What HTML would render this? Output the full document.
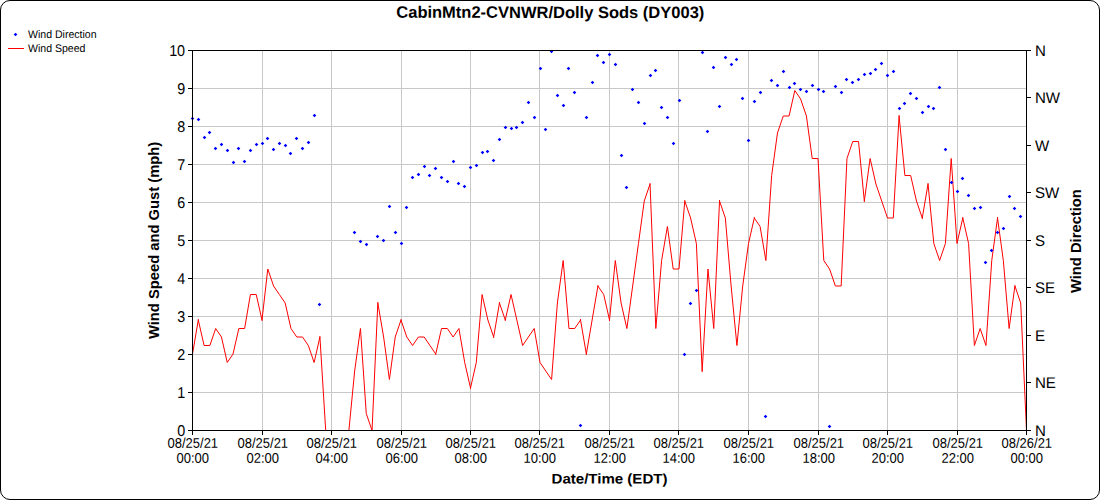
<!DOCTYPE html>
<html><head><meta charset="utf-8"><title>CabinMtn2-CVNWR/Dolly Sods (DY003)</title><style>
html,body{margin:0;padding:0;background:#fff;}
body{width:1100px;height:500px;overflow:hidden;position:relative;font-family:"Liberation Sans",sans-serif;}
svg{position:absolute;left:0;top:0;display:block;}
text{font-family:"Liberation Sans",sans-serif;fill:#000;}
.b{font-weight:bold;}
</style></head><body>
<svg width="1100" height="500" viewBox="0 0 1100 500">
<rect x="0.5" y="0.5" width="1099" height="499" rx="9.5" ry="9.5" fill="#fff" stroke="#000" stroke-width="1"/>
<path d="M262.5 51V430M331.5 51V430M401.5 51V430M470.5 51V430M539.5 51V430M609.5 51V430M678.5 51V430M748.5 51V430M818.5 51V430M887.5 51V430M957.5 51V430M193 392.5H1026M193 354.5H1026M193 316.5H1026M193 278.5H1026M193 240.5H1026M193 202.5H1026M193 164.5H1026M193 126.5H1026M193 88.5H1026" stroke="#c8c8c8" stroke-width="1" fill="none" shape-rendering="crispEdges"/>
<polyline points="192.50,354.0 198.29,320.0 204.08,345.5 209.88,345.5 215.67,328.5 221.46,337.0 227.25,362.5 233.04,354.0 238.83,328.5 244.62,328.5 250.42,294.5 256.21,294.5 262.00,320.0 267.79,269.0 273.58,286.0 279.38,294.5 285.17,303.0 290.96,328.5 296.75,337.0 302.54,337.0 308.33,345.5 314.12,362.5 319.92,337.0 325.71,430.5 331.50,430.5 337.29,430.5 343.08,430.5 348.88,430.5 354.67,371.0 360.46,328.5 366.25,413.5 372.04,430.5 377.83,303.0 383.62,337.0 389.42,379.5 395.21,337.0 401.00,320.0 406.79,337.0 412.58,345.5 418.38,337.0 424.17,337.0 429.96,345.5 435.75,354.0 441.54,328.5 447.33,328.5 453.12,337.0 458.92,328.5 464.71,362.5 470.50,388.0 476.29,362.5 482.08,294.5 487.88,320.0 493.67,337.0 499.46,303.0 505.25,320.0 511.04,294.5 516.83,320.0 522.62,345.5 528.42,337.0 534.21,328.5 540.00,362.5 545.79,371.0 551.58,379.5 557.38,303.0 563.17,260.5 568.96,328.5 574.75,328.5 580.54,320.0 586.33,354.0 592.12,320.0 597.92,286.0 603.71,294.5 609.50,320.0 615.29,260.5 621.08,303.0 626.88,328.5 632.67,286.0 638.46,243.5 644.25,201.0 650.04,184.0 655.83,328.5 661.62,260.5 667.42,226.5 673.21,269.0 679.00,269.0 684.79,201.0 690.58,218.0 696.38,243.5 702.17,371.0 707.96,269.0 713.75,328.5 719.54,201.0 725.33,218.0 731.12,286.0 736.92,345.5 742.71,286.0 748.50,243.5 754.29,218.0 760.08,226.5 765.88,260.5 771.67,175.5 777.46,133.0 783.25,116.0 789.04,116.0 794.83,90.5 800.62,99.0 806.42,116.0 812.21,158.5 818.00,158.5 823.79,260.5 829.58,269.0 835.38,286.0 841.17,286.0 846.96,158.5 852.75,141.5 858.54,141.5 864.33,201.0 870.12,158.5 875.92,184.0 881.71,201.0 887.50,218.0 893.29,218.0 899.08,116.0 904.88,175.5 910.67,175.5 916.46,201.0 922.25,218.0 928.04,184.0 933.83,243.5 939.62,260.5 945.42,243.5 951.21,158.5 957.00,243.5 962.79,218.0 968.58,243.5 974.38,345.5 980.17,328.5 985.96,345.5 991.75,260.5 997.54,218.0 1003.33,260.5 1009.12,328.5 1014.92,286.0 1020.71,303.0 1026.50,430.5" fill="none" stroke="#ff0000" stroke-width="1" stroke-linejoin="miter" stroke-linecap="butt" stroke-miterlimit="10"/>
<path d="M198.29 320.00v-1.0M262.00 320.00v1.0M319.92 337.00v-1.0M377.83 303.00v-1.0M401.00 320.00v-1.0M435.75 354.00v1.0M470.50 388.00v1.0M493.67 337.00v1.0M499.46 303.00v-1.0M505.25 320.00v1.0M580.54 320.00v-1.0M586.33 354.00v1.0M597.92 286.00v-1.0M609.50 320.00v1.0M650.04 184.00v-1.0M684.79 201.00v-1.0M702.17 371.00v1.0M719.54 201.00v-1.0M754.29 218.00v-1.0M864.33 201.00v1.0M899.08 116.00v-1.0M922.25 218.00v1.0M928.04 184.00v-1.0M962.79 218.00v-1.0M997.54 218.00v-1.0M1014.92 286.00v-1.0" fill="none" stroke="#ff0000" stroke-width="1.0"/>
<path fill="#0000ff" d="M190.7 118.5L192.5 116.7L194.3 118.5L192.5 120.3ZM196.7 119.5L198.5 117.7L200.3 119.5L198.5 121.3ZM202.7 137.5L204.5 135.7L206.3 137.5L204.5 139.3ZM207.7 132.5L209.5 130.7L211.3 132.5L209.5 134.3ZM213.7 148.5L215.5 146.7L217.3 148.5L215.5 150.3ZM219.7 144.5L221.5 142.7L223.3 144.5L221.5 146.3ZM225.7 150.5L227.5 148.7L229.3 150.5L227.5 152.3ZM231.7 162.5L233.5 160.7L235.3 162.5L233.5 164.3ZM236.7 148.5L238.5 146.7L240.3 148.5L238.5 150.3ZM242.7 161.5L244.5 159.7L246.3 161.5L244.5 163.3ZM248.7 150.5L250.5 148.7L252.3 150.5L250.5 152.3ZM254.7 144.5L256.5 142.7L258.3 144.5L256.5 146.3ZM260.7 143.5L262.5 141.7L264.3 143.5L262.5 145.3ZM265.7 138.5L267.5 136.7L269.3 138.5L267.5 140.3ZM271.7 149.5L273.5 147.7L275.3 149.5L273.5 151.3ZM277.7 143.5L279.5 141.7L281.3 143.5L279.5 145.3ZM283.7 145.5L285.5 143.7L287.3 145.5L285.5 147.3ZM288.7 153.5L290.5 151.7L292.3 153.5L290.5 155.3ZM294.7 138.5L296.5 136.7L298.3 138.5L296.5 140.3ZM300.7 148.5L302.5 146.7L304.3 148.5L302.5 150.3ZM306.7 142.5L308.5 140.7L310.3 142.5L308.5 144.3ZM312.7 115.5L314.5 113.7L316.3 115.5L314.5 117.3ZM317.7 304.5L319.5 302.7L321.3 304.5L319.5 306.3ZM352.7 232.5L354.5 230.7L356.3 232.5L354.5 234.3ZM358.7 241.5L360.5 239.7L362.3 241.5L360.5 243.3ZM364.7 244.5L366.5 242.7L368.3 244.5L366.5 246.3ZM375.7 236.5L377.5 234.7L379.3 236.5L377.5 238.3ZM381.7 240.5L383.5 238.7L385.3 240.5L383.5 242.3ZM387.7 206.5L389.5 204.7L391.3 206.5L389.5 208.3ZM393.7 232.5L395.5 230.7L397.3 232.5L395.5 234.3ZM399.7 243.5L401.5 241.7L403.3 243.5L401.5 245.3ZM404.7 207.5L406.5 205.7L408.3 207.5L406.5 209.3ZM410.7 177.5L412.5 175.7L414.3 177.5L412.5 179.3ZM416.7 174.5L418.5 172.7L420.3 174.5L418.5 176.3ZM422.7 166.5L424.5 164.7L426.3 166.5L424.5 168.3ZM427.7 175.5L429.5 173.7L431.3 175.5L429.5 177.3ZM433.7 168.5L435.5 166.7L437.3 168.5L435.5 170.3ZM439.7 177.5L441.5 175.7L443.3 177.5L441.5 179.3ZM445.7 181.5L447.5 179.7L449.3 181.5L447.5 183.3ZM451.7 161.5L453.5 159.7L455.3 161.5L453.5 163.3ZM456.7 183.5L458.5 181.7L460.3 183.5L458.5 185.3ZM462.7 186.5L464.5 184.7L466.3 186.5L464.5 188.3ZM468.7 167.5L470.5 165.7L472.3 167.5L470.5 169.3ZM474.7 165.5L476.5 163.7L478.3 165.5L476.5 167.3ZM480.7 152.5L482.5 150.7L484.3 152.5L482.5 154.3ZM485.7 151.5L487.5 149.7L489.3 151.5L487.5 153.3ZM491.7 160.5L493.5 158.7L495.3 160.5L493.5 162.3ZM497.7 139.5L499.5 137.7L501.3 139.5L499.5 141.3ZM503.7 127.5L505.5 125.7L507.3 127.5L505.5 129.3ZM509.7 128.5L511.5 126.7L513.3 128.5L511.5 130.3ZM514.7 127.5L516.5 125.7L518.3 127.5L516.5 129.3ZM520.7 122.5L522.5 120.7L524.3 122.5L522.5 124.3ZM526.7 102.5L528.5 100.7L530.3 102.5L528.5 104.3ZM532.7 117.5L534.5 115.7L536.3 117.5L534.5 119.3ZM538.7 68.5L540.5 66.7L542.3 68.5L540.5 70.3ZM543.7 129.5L545.5 127.7L547.3 129.5L545.5 131.3ZM549.7 51.5L551.5 49.7L553.3 51.5L551.5 53.3ZM555.7 95.5L557.5 93.7L559.3 95.5L557.5 97.3ZM561.7 105.5L563.5 103.7L565.3 105.5L563.5 107.3ZM566.7 68.5L568.5 66.7L570.3 68.5L568.5 70.3ZM572.7 92.5L574.5 90.7L576.3 92.5L574.5 94.3ZM578.7 425.5L580.5 423.7L582.3 425.5L580.5 427.3ZM584.7 117.5L586.5 115.7L588.3 117.5L586.5 119.3ZM590.7 82.5L592.5 80.7L594.3 82.5L592.5 84.3ZM595.7 55.5L597.5 53.7L599.3 55.5L597.5 57.3ZM601.7 62.5L603.5 60.7L605.3 62.5L603.5 64.3ZM607.7 54.5L609.5 52.7L611.3 54.5L609.5 56.3ZM613.7 64.5L615.5 62.7L617.3 64.5L615.5 66.3ZM619.7 155.5L621.5 153.7L623.3 155.5L621.5 157.3ZM624.7 187.5L626.5 185.7L628.3 187.5L626.5 189.3ZM630.7 89.5L632.5 87.7L634.3 89.5L632.5 91.3ZM636.7 102.5L638.5 100.7L640.3 102.5L638.5 104.3ZM642.7 123.5L644.5 121.7L646.3 123.5L644.5 125.3ZM648.7 75.5L650.5 73.7L652.3 75.5L650.5 77.3ZM653.7 70.5L655.5 68.7L657.3 70.5L655.5 72.3ZM659.7 107.5L661.5 105.7L663.3 107.5L661.5 109.3ZM665.7 117.5L667.5 115.7L669.3 117.5L667.5 119.3ZM671.7 143.5L673.5 141.7L675.3 143.5L673.5 145.3ZM677.7 100.5L679.5 98.7L681.3 100.5L679.5 102.3ZM682.7 354.5L684.5 352.7L686.3 354.5L684.5 356.3ZM688.7 303.5L690.5 301.7L692.3 303.5L690.5 305.3ZM694.7 290.5L696.5 288.7L698.3 290.5L696.5 292.3ZM700.7 52.5L702.5 50.7L704.3 52.5L702.5 54.3ZM705.7 131.5L707.5 129.7L709.3 131.5L707.5 133.3ZM711.7 67.5L713.5 65.7L715.3 67.5L713.5 69.3ZM717.7 106.5L719.5 104.7L721.3 106.5L719.5 108.3ZM723.7 57.5L725.5 55.7L727.3 57.5L725.5 59.3ZM729.7 64.5L731.5 62.7L733.3 64.5L731.5 66.3ZM734.7 59.5L736.5 57.7L738.3 59.5L736.5 61.3ZM740.7 98.5L742.5 96.7L744.3 98.5L742.5 100.3ZM746.7 140.5L748.5 138.7L750.3 140.5L748.5 142.3ZM752.7 101.5L754.5 99.7L756.3 101.5L754.5 103.3ZM758.7 92.5L760.5 90.7L762.3 92.5L760.5 94.3ZM763.7 416.5L765.5 414.7L767.3 416.5L765.5 418.3ZM769.7 80.5L771.5 78.7L773.3 80.5L771.5 82.3ZM775.7 85.5L777.5 83.7L779.3 85.5L777.5 87.3ZM781.7 71.5L783.5 69.7L785.3 71.5L783.5 73.3ZM787.7 87.5L789.5 85.7L791.3 87.5L789.5 89.3ZM792.7 83.5L794.5 81.7L796.3 83.5L794.5 85.3ZM798.7 89.5L800.5 87.7L802.3 89.5L800.5 91.3ZM804.7 91.5L806.5 89.7L808.3 91.5L806.5 93.3ZM810.7 85.5L812.5 83.7L814.3 85.5L812.5 87.3ZM816.7 89.5L818.5 87.7L820.3 89.5L818.5 91.3ZM821.7 91.5L823.5 89.7L825.3 91.5L823.5 93.3ZM827.7 426.5L829.5 424.7L831.3 426.5L829.5 428.3ZM833.7 86.5L835.5 84.7L837.3 86.5L835.5 88.3ZM839.7 92.5L841.5 90.7L843.3 92.5L841.5 94.3ZM844.7 79.5L846.5 77.7L848.3 79.5L846.5 81.3ZM850.7 82.5L852.5 80.7L854.3 82.5L852.5 84.3ZM856.7 79.5L858.5 77.7L860.3 79.5L858.5 81.3ZM862.7 74.5L864.5 72.7L866.3 74.5L864.5 76.3ZM868.7 73.5L870.5 71.7L872.3 73.5L870.5 75.3ZM873.7 69.5L875.5 67.7L877.3 69.5L875.5 71.3ZM879.7 63.5L881.5 61.7L883.3 63.5L881.5 65.3ZM885.7 75.5L887.5 73.7L889.3 75.5L887.5 77.3ZM891.7 71.5L893.5 69.7L895.3 71.5L893.5 73.3ZM897.7 108.5L899.5 106.7L901.3 108.5L899.5 110.3ZM902.7 103.5L904.5 101.7L906.3 103.5L904.5 105.3ZM908.7 93.5L910.5 91.7L912.3 93.5L910.5 95.3ZM914.7 98.5L916.5 96.7L918.3 98.5L916.5 100.3ZM920.7 112.5L922.5 110.7L924.3 112.5L922.5 114.3ZM926.7 106.5L928.5 104.7L930.3 106.5L928.5 108.3ZM931.7 108.5L933.5 106.7L935.3 108.5L933.5 110.3ZM937.7 87.5L939.5 85.7L941.3 87.5L939.5 89.3ZM943.7 149.5L945.5 147.7L947.3 149.5L945.5 151.3ZM949.7 182.5L951.5 180.7L953.3 182.5L951.5 184.3ZM955.7 191.5L957.5 189.7L959.3 191.5L957.5 193.3ZM960.7 178.5L962.5 176.7L964.3 178.5L962.5 180.3ZM966.7 195.5L968.5 193.7L970.3 195.5L968.5 197.3ZM972.7 208.5L974.5 206.7L976.3 208.5L974.5 210.3ZM978.7 207.5L980.5 205.7L982.3 207.5L980.5 209.3ZM983.7 262.5L985.5 260.7L987.3 262.5L985.5 264.3ZM989.7 250.5L991.5 248.7L993.3 250.5L991.5 252.3ZM995.7 232.5L997.5 230.7L999.3 232.5L997.5 234.3ZM1001.7 228.5L1003.5 226.7L1005.3 228.5L1003.5 230.3ZM1007.7 196.5L1009.5 194.7L1011.3 196.5L1009.5 198.3ZM1012.7 208.5L1014.5 206.7L1016.3 208.5L1014.5 210.3ZM1018.7 216.5L1020.5 214.7L1022.3 216.5L1020.5 218.3Z"/>
<path d="M192.5 50V431M1026.5 50V431M192 50.5H1027M192 430.5H1027M188 430.5H192M188 392.5H192M188 354.5H192M188 316.5H192M188 278.5H192M188 240.5H192M188 202.5H192M188 164.5H192M188 126.5H192M188 88.5H192M188 50.5H192M1027 430.5H1031M1027 382.5H1031M1027 335.5H1031M1027 287.5H1031M1027 240.5H1031M1027 192.5H1031M1027 145.5H1031M1027 97.5H1031M1027 50.5H1031M192.5 431V435M262.5 431V435M331.5 431V435M401.5 431V435M470.5 431V435M539.5 431V435M609.5 431V435M678.5 431V435M748.5 431V435M818.5 431V435M887.5 431V435M957.5 431V435M1026.5 431V435" stroke="#000" stroke-width="1" fill="none" shape-rendering="crispEdges"/>
<text transform="translate(185.10,436.10) rotate(0.03) scale(0.92,1)" font-size="15.6" text-anchor="end">0</text><text transform="translate(185.10,398.10) rotate(0.03) scale(0.92,1)" font-size="15.6" text-anchor="end">1</text><text transform="translate(185.10,360.10) rotate(0.03) scale(0.92,1)" font-size="15.6" text-anchor="end">2</text><text transform="translate(185.10,322.10) rotate(0.03) scale(0.92,1)" font-size="15.6" text-anchor="end">3</text><text transform="translate(185.10,284.10) rotate(0.03) scale(0.92,1)" font-size="15.6" text-anchor="end">4</text><text transform="translate(185.10,246.10) rotate(0.03) scale(0.92,1)" font-size="15.6" text-anchor="end">5</text><text transform="translate(185.10,208.10) rotate(0.03) scale(0.92,1)" font-size="15.6" text-anchor="end">6</text><text transform="translate(185.10,170.10) rotate(0.03) scale(0.92,1)" font-size="15.6" text-anchor="end">7</text><text transform="translate(185.10,132.10) rotate(0.03) scale(0.92,1)" font-size="15.6" text-anchor="end">8</text><text transform="translate(185.10,94.10) rotate(0.03) scale(0.92,1)" font-size="15.6" text-anchor="end">9</text><text transform="translate(185.10,56.10) rotate(0.03) scale(0.92,1)" font-size="15.6" text-anchor="end">10</text>
<text transform="translate(1035.00,436.00) rotate(0.03) scale(0.978,1)" font-size="15.4" text-anchor="start">N</text><text transform="translate(1035.00,388.00) rotate(0.03) scale(0.978,1)" font-size="15.4" text-anchor="start">NE</text><text transform="translate(1035.00,341.00) rotate(0.03) scale(0.978,1)" font-size="15.4" text-anchor="start">E</text><text transform="translate(1035.00,293.00) rotate(0.03) scale(0.978,1)" font-size="15.4" text-anchor="start">SE</text><text transform="translate(1035.00,246.00) rotate(0.03) scale(0.978,1)" font-size="15.4" text-anchor="start">S</text><text transform="translate(1035.00,198.00) rotate(0.03) scale(0.978,1)" font-size="15.4" text-anchor="start">SW</text><text transform="translate(1035.00,151.00) rotate(0.03) scale(0.978,1)" font-size="15.4" text-anchor="start">W</text><text transform="translate(1035.00,103.00) rotate(0.03) scale(0.978,1)" font-size="15.4" text-anchor="start">NW</text><text transform="translate(1035.00,56.00) rotate(0.03) scale(0.978,1)" font-size="15.4" text-anchor="start">N</text>
<text transform="translate(192.80,447.80) rotate(0.03) scale(0.929,1)" font-size="14" text-anchor="middle">08/25/21</text><text transform="translate(192.80,462.80) rotate(0.03) scale(0.929,1)" font-size="14" text-anchor="middle">00:00</text><text transform="translate(262.80,447.80) rotate(0.03) scale(0.929,1)" font-size="14" text-anchor="middle">08/25/21</text><text transform="translate(262.80,462.80) rotate(0.03) scale(0.929,1)" font-size="14" text-anchor="middle">02:00</text><text transform="translate(331.80,447.80) rotate(0.03) scale(0.929,1)" font-size="14" text-anchor="middle">08/25/21</text><text transform="translate(331.80,462.80) rotate(0.03) scale(0.929,1)" font-size="14" text-anchor="middle">04:00</text><text transform="translate(401.80,447.80) rotate(0.03) scale(0.929,1)" font-size="14" text-anchor="middle">08/25/21</text><text transform="translate(401.80,462.80) rotate(0.03) scale(0.929,1)" font-size="14" text-anchor="middle">06:00</text><text transform="translate(470.80,447.80) rotate(0.03) scale(0.929,1)" font-size="14" text-anchor="middle">08/25/21</text><text transform="translate(470.80,462.80) rotate(0.03) scale(0.929,1)" font-size="14" text-anchor="middle">08:00</text><text transform="translate(539.80,447.80) rotate(0.03) scale(0.929,1)" font-size="14" text-anchor="middle">08/25/21</text><text transform="translate(539.80,462.80) rotate(0.03) scale(0.929,1)" font-size="14" text-anchor="middle">10:00</text><text transform="translate(609.80,447.80) rotate(0.03) scale(0.929,1)" font-size="14" text-anchor="middle">08/25/21</text><text transform="translate(609.80,462.80) rotate(0.03) scale(0.929,1)" font-size="14" text-anchor="middle">12:00</text><text transform="translate(678.80,447.80) rotate(0.03) scale(0.929,1)" font-size="14" text-anchor="middle">08/25/21</text><text transform="translate(678.80,462.80) rotate(0.03) scale(0.929,1)" font-size="14" text-anchor="middle">14:00</text><text transform="translate(748.80,447.80) rotate(0.03) scale(0.929,1)" font-size="14" text-anchor="middle">08/25/21</text><text transform="translate(748.80,462.80) rotate(0.03) scale(0.929,1)" font-size="14" text-anchor="middle">16:00</text><text transform="translate(818.80,447.80) rotate(0.03) scale(0.929,1)" font-size="14" text-anchor="middle">08/25/21</text><text transform="translate(818.80,462.80) rotate(0.03) scale(0.929,1)" font-size="14" text-anchor="middle">18:00</text><text transform="translate(887.80,447.80) rotate(0.03) scale(0.929,1)" font-size="14" text-anchor="middle">08/25/21</text><text transform="translate(887.80,462.80) rotate(0.03) scale(0.929,1)" font-size="14" text-anchor="middle">20:00</text><text transform="translate(957.80,447.80) rotate(0.03) scale(0.929,1)" font-size="14" text-anchor="middle">08/25/21</text><text transform="translate(957.80,462.80) rotate(0.03) scale(0.929,1)" font-size="14" text-anchor="middle">22:00</text><text transform="translate(1026.80,447.80) rotate(0.03) scale(0.929,1)" font-size="14" text-anchor="middle">08/26/21</text><text transform="translate(1026.80,462.80) rotate(0.03) scale(0.929,1)" font-size="14" text-anchor="middle">00:00</text>
<text transform="translate(550.30,17.90) rotate(0.03)" font-size="16.5" text-anchor="middle" class="b">CabinMtn2-CVNWR/Dolly Sods (DY003)</text>
<text transform="translate(609.50,483.60) rotate(0.03) scale(1.076,1)" font-size="14" text-anchor="middle" class="b">Date/Time (EDT)</text>
<text transform="translate(159.20,240.40) rotate(-90) scale(1.054,1)" font-size="14" text-anchor="middle" class="b">Wind Speed and Gust (mph)</text>
<text transform="translate(1081.00,241.10) rotate(-90) scale(1.054,1)" font-size="14" text-anchor="middle" class="b">Wind Direction</text>
<path fill="#0000ff" d="M13.7 34.5L15.5 32.7L17.3 34.5L15.5 36.3Z"/><text transform="translate(28.00,38.00) rotate(0.03) scale(0.96,1)" font-size="11" text-anchor="start">Wind Direction</text>
<path d="M8 48.5H24" stroke="#ff0000" stroke-width="1" shape-rendering="crispEdges"/><text transform="translate(28.00,52.00) rotate(0.03) scale(0.96,1)" font-size="11" text-anchor="start">Wind Speed</text>
</svg></body></html>
